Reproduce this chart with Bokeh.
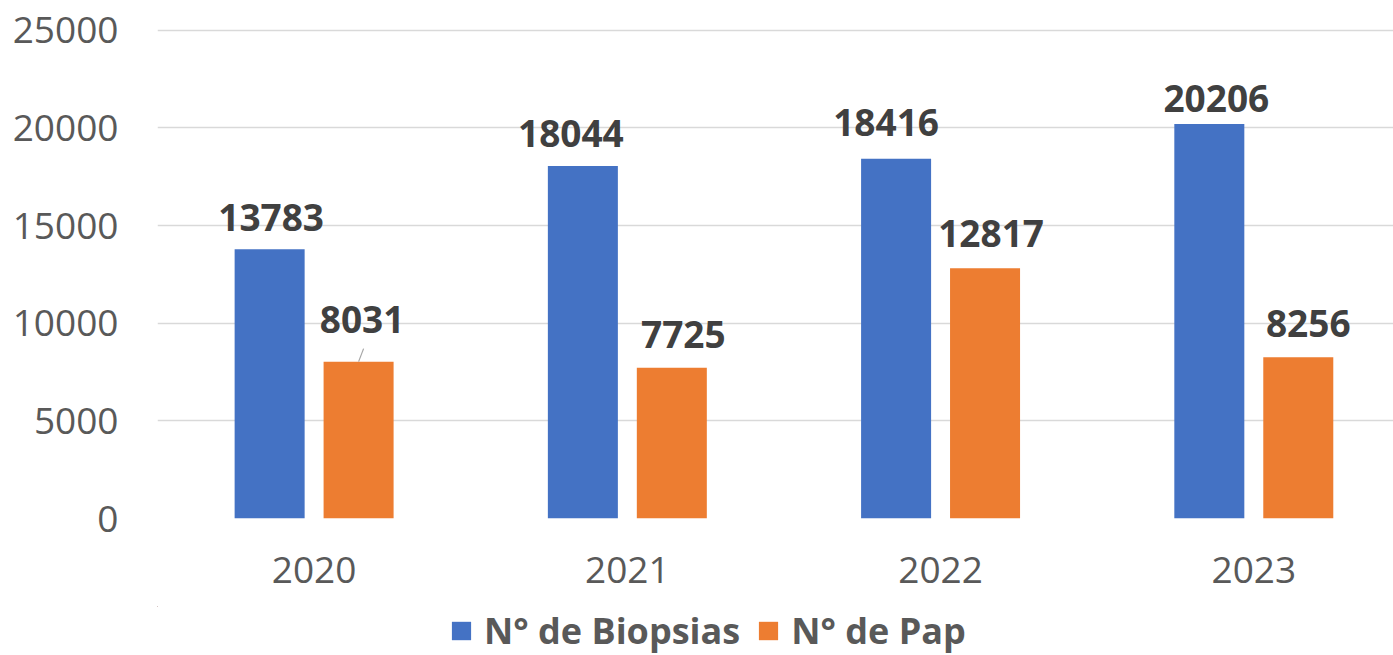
from bokeh.plotting import figure
from bokeh.models import (Range1d, FixedTicker, Legend, LegendItem, ColumnDataSource)
from bokeh.layouts import column
from bokeh.embed import file_html
from bokeh.resources import INLINE
from bokeh.core.properties import value
import numpy as np

# ---- data ----
years = ["2020", "2021", "2022", "2023"]
biopsias = [13783, 18044, 18416, 20206]
pap = [8031, 7725, 12817, 8256]
y_ticks = [0, 5000, 10000, 15000, 20000, 25000]
series_names = ["N° de Biopsias", "N° de Pap"]

# ---- layout (label placement in screen px, not data) ----
bio_dx = [1.5, -12, -10, 7]
bio_dy = [-32, -33, -36, -25]
pap_dx = [3.5, 11.5, 6, 10]
pap_dy = [-42, -33, -35, -34]

BLUE = "#4472C4"
ORANGE = "#ED7D31"
FONT = "Open Sans"

idx = np.arange(len(years))
bar_w = 0.2235
off = 0.142

p = figure(frame_width=1236, frame_height=498, output_backend="svg", toolbar_location=None,
           x_range=Range1d(-0.5, 3.446), y_range=Range1d(0, 25500),
           min_border_left=157, min_border_right=0, min_border_top=20, min_border_bottom=88)
p.outline_line_color = None
p.background_fill_color = "white"
p.border_fill_color = "white"

src_b = ColumnDataSource(dict(x=idx - off, top=biopsias, lab=[str(v) for v in biopsias],
                              dx=bio_dx, dy=bio_dy))
src_p = ColumnDataSource(dict(x=idx + off, top=pap, lab=[str(v) for v in pap],
                              dx=pap_dx, dy=pap_dy))

rb = p.vbar(x="x", top="top", bottom=0, width=bar_w, source=src_b, fill_color=BLUE, line_color=None)
rp = p.vbar(x="x", top="top", bottom=0, width=bar_w, source=src_p, fill_color=ORANGE, line_color=None)

# leader line for first orange label
px_per_unit_y = 488 / 25000
p.segment(x0=[idx[0] + off], y0=[pap[0]], x1=[idx[0] + off + 5 / 313.2], y1=[pap[0] + 13 / px_per_unit_y],
          line_color="#A6A6A6", line_width=1.2)

for src in (src_b, src_p):
    p.text(x="x", y="top", text="lab", source=src, x_offset="dx", y_offset="dy",
           text_font=value(FONT), text_font_style="bold", text_font_size="37px",
           text_color="#404040", text_align="center", text_baseline="alphabetic")

# axes
p.xaxis.ticker = FixedTicker(ticks=list(idx))
p.xaxis.major_label_overrides = {int(i): y for i, y in zip(idx, years)}
p.yaxis.ticker = FixedTicker(ticks=y_ticks)
for ax in (p.xaxis, p.yaxis):
    ax.axis_line_color = None
    ax.major_tick_line_color = None
    ax.minor_tick_line_color = None
    ax.major_label_text_font = FONT
    ax.major_label_text_font_size = "37px"
    ax.major_label_text_color = "#595959"
p.xaxis.major_label_standoff = 32
p.yaxis.major_label_standoff = 33

p.xgrid.grid_line_color = None
p.ygrid.ticker = FixedTicker(ticks=y_ticks)
p.ygrid.grid_line_color = "#D9D9D9"
p.ygrid.grid_line_width = 1.6

# ---- legend strip (separate figure so the legend is not clipped) ----
# same series drawn here, but fully outside this strip's view: only their legend swatches show
p2 = figure(width=1393, height=49, output_backend="svg", toolbar_location=None,
            x_range=Range1d(100, 101), y_range=Range1d(-200000, -199999),
            x_axis_location=None, y_axis_location=None,
            min_border_left=0, min_border_right=0, min_border_top=0, min_border_bottom=0)
p2.outline_line_color = None
p2.xgrid.grid_line_color = None
p2.ygrid.grid_line_color = None
lb = p2.vbar(x="x", top="top", bottom=0, width=bar_w, source=src_b, fill_color=BLUE, line_color=None)
lp = p2.vbar(x="x", top="top", bottom=0, width=bar_w, source=src_p, fill_color=ORANGE, line_color=None)

legend = Legend(items=[LegendItem(label=series_names[0], renderers=[lb]),
                       LegendItem(label=series_names[1], renderers=[lp])],
                orientation="horizontal", location=(292, 0),
                glyph_width=24, glyph_height=23, label_standoff=11, spacing=16,
                padding=0, margin=0, border_line_color=None, background_fill_alpha=0,
                label_text_font=FONT, label_text_font_style="bold", label_text_font_size="36px",
                label_text_color="#595959")
p2.add_layout(legend)

layout = column(p, p2, spacing=0)
open("out.html", "w").write(file_html(layout, INLINE))
